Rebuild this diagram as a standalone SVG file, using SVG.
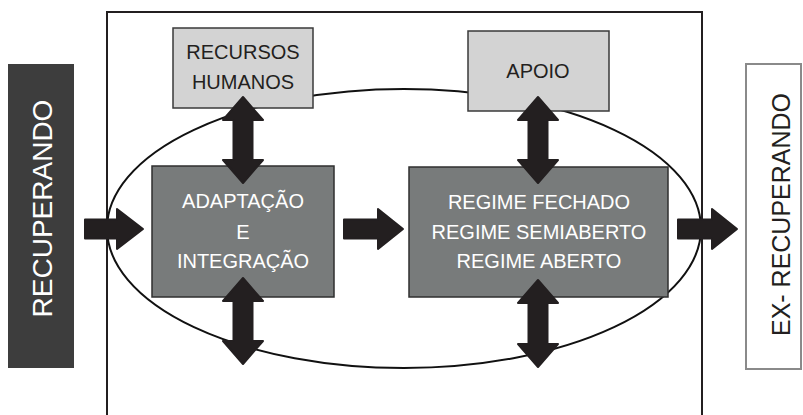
<svg xmlns="http://www.w3.org/2000/svg" width="803" height="415" viewBox="0 0 803 415">
  <style>
    .lbl { font-family: "Liberation Sans", Arial, sans-serif; font-size: 20px; text-anchor: middle; }
    .light { fill: #d3d3d3; stroke: #3a3a3a; stroke-width: 1.5; }
    .mid { fill: #787b7b; stroke: #2f2f2f; stroke-width: 1.5; }
    .arrow { fill: #231f20; stroke: #231f20; stroke-width: 2; stroke-linejoin: round; }
    .dark-t { fill: #231f20; }
    .white-t { fill: #ffffff; }
  </style>
  <rect width="803" height="415" fill="#ffffff"/>

  <!-- outer frame (open at bottom) and ellipse -->
  <path d="M107,415 V12 H702 V415" fill="none" stroke="#231f20" stroke-width="2"/>
  <ellipse cx="404" cy="228.5" rx="297" ry="139.5" fill="none" stroke="#111111" stroke-width="2"/>

  <g id="recuperando">
    <rect x="8" y="64" width="66" height="304" fill="#3d3d3d"/>
    <text class="lbl white-t" style="font-size:28px" transform="translate(52,208.5) rotate(-90)">RECUPERANDO</text>
  </g>

  <g id="ex-recuperando">
    <rect x="746" y="64" width="55" height="305" fill="#ffffff" stroke="#8a8a8a" stroke-width="2"/>
    <text class="lbl dark-t" style="font-size:25px" transform="translate(790,214.5) rotate(-90)">EX- RECUPERANDO</text>
  </g>

  <g id="recursos-humanos">
    <rect class="light" x="173" y="28" width="140" height="80"/>
    <text class="lbl dark-t" x="243" y="59">RECURSOS</text>
    <text class="lbl dark-t" x="243" y="89">HUMANOS</text>
  </g>

  <g id="apoio">
    <rect class="light" x="468" y="31" width="141" height="80"/>
    <text class="lbl dark-t" x="538" y="78">APOIO</text>
  </g>

  <g id="adaptacao">
    <rect class="mid" x="152" y="166" width="182" height="131"/>
    <text class="lbl white-t" x="243" y="208">ADAPTAÇÃO</text>
    <text class="lbl white-t" x="243" y="239">E</text>
    <text class="lbl white-t" x="243" y="268">INTEGRAÇÃO</text>
  </g>

  <g id="regime">
    <rect class="mid" x="409" y="167" width="259" height="130"/>
    <text class="lbl white-t" x="539" y="209">REGIME FECHADO</text>
    <text class="lbl white-t" x="539" y="239">REGIME SEMIABERTO</text>
    <text class="lbl white-t" x="539" y="268">REGIME ABERTO</text>
  </g>

  <g id="connectors">
    <!-- horizontal arrows -->
    <path class="arrow" d="M85,219.5 H117 V209 L143,229 L117,249 V238.5 H85 Z"/>
    <path class="arrow" d="M344,219.5 H378 V209 L403,229 L378,249 V238.5 H344 Z"/>
    <path class="arrow" d="M678,219.5 H712 V209 L737,229 L712,249 V238.5 H678 Z"/>
    <!-- vertical double arrows -->
    <path class="arrow" d="M243,97 L263,120 L252.5,120 L252.5,160 L263,160 L243,183 L223,160 L233.5,160 L233.5,120 L223,120 Z"/>
    <path class="arrow" d="M538,97 L558,120 L547.5,120 L547.5,160 L558,160 L538,183 L518,160 L528.5,160 L528.5,120 L518,120 Z"/>
    <path class="arrow" d="M243,278 L263,301 L252.5,301 L252.5,341 L263,341 L243,364 L223,341 L233.5,341 L233.5,301 L223,301 Z"/>
    <path class="arrow" d="M538,280 L558,303 L547.5,303 L547.5,344 L558,344 L538,367 L518,344 L528.5,344 L528.5,303 L518,303 Z"/>
  </g>
</svg>
